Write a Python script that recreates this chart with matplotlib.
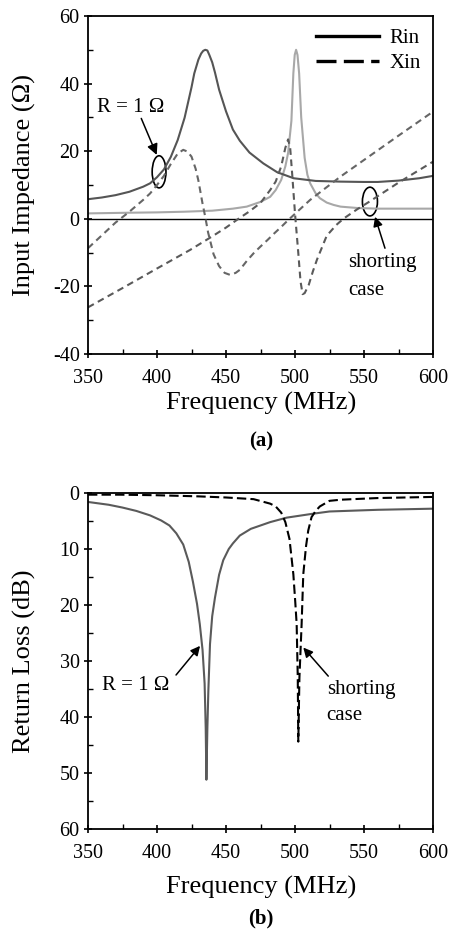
import matplotlib
matplotlib.use("Agg")
import matplotlib.pyplot as plt
from matplotlib.lines import Line2D
from matplotlib.patches import Ellipse

plt.rcParams['font.family'] = ['Liberation Serif', 'DejaVu Serif']
plt.rcParams['axes.unicode_minus'] = False

# ---- (a) input impedance ----
f_rin_r1 = [350, 360, 370, 380, 390, 395, 400, 405, 410, 415, 420, 425, 427, 430, 432,
            433.5, 435, 436.5, 438, 440, 442, 445, 450, 455, 460, 467, 477, 487, 499,
            515, 533, 550, 560, 575, 590, 600]
rin_r1 = [5.8, 6.3, 7.0, 8.0, 9.5, 10.5, 12.3, 14.6, 18.3, 23.3, 29.9, 38.9, 43.0, 47.1,
          48.9, 49.7, 50.0, 49.8, 48.4, 46.3, 43.3, 38.2, 31.8, 26.4, 23.1, 19.6, 16.4,
          13.8, 12.0, 11.2, 11.0, 10.9, 10.9, 11.3, 12.0, 12.7]

f_rin_sh = [350, 380, 400, 420, 440, 455, 465, 475, 482, 486, 490, 493, 495, 497.4,
            498.8, 499.8, 500.8, 501.8, 503, 504.5, 507, 509, 511, 515, 518, 523, 528,
            533, 545, 560, 600]
rin_sh = [1.6, 1.8, 1.9, 2.1, 2.4, 3.0, 3.6, 5.0, 6.5, 8.5, 11.5, 15.5, 19.5, 29.0,
          43.0, 48.5, 50.0, 48.5, 43.0, 30.0, 18.0, 13.0, 10.5, 7.5, 6.1, 4.8, 4.1,
          3.6, 3.2, 3.0, 3.0]

f_xin_r1 = [350, 360, 370, 380, 390, 395, 400, 405, 410, 415, 419, 422, 425, 428, 430,
            433, 435, 437, 441, 445, 449, 453, 457, 460, 465, 470, 475, 480, 485, 490,
            495, 511, 533, 550, 575, 600]
xin_r1 = [-8.7, -4.9, -1.1, 2.1, 5.6, 7.5, 10.0, 12.7, 16.2, 19.3, 20.4, 19.9, 18.4, 14.8,
          11.3, 4.5, 0.5, -4.0, -10.5, -14.0, -16.0, -16.6, -16.0, -15.1, -12.5, -10.2,
          -8.2, -6.3, -4.3, -2.4, -0.4, 5.6, 12.5, 17.4, 24.6, 31.7]

f_xin_sh = [350, 375, 400, 424, 440, 450, 459, 467, 475, 482, 486, 490, 493, 495, 496.5,
            498, 500, 502.4, 504, 505.5, 507, 510, 513, 516, 520, 523, 530, 535, 545,
            554, 575, 600]
xin_sh = [-26.2, -20.5, -14.7, -9.2, -5.2, -2.6, 0.0, 2.2, 4.7, 8.5, 11.0, 15.5, 21.0, 23.5,
          21.0, 13.0, 1.6, -10.2, -18.5, -22.3, -22.0, -19.5, -15.5, -12.0, -8.0, -5.0,
          -1.8, 0.0, 2.8, 5.1, 10.7, 16.9]

# ---- (b) return loss ----
f_rl_r1 = [350, 365, 375, 385, 395, 403, 409, 414, 419, 423, 426, 429, 431, 433, 434.5,
           435.3, 435.8, 436.5, 437.2, 438.4, 440, 442, 445, 448, 452, 455, 460, 468,
           475, 482, 494, 513, 525, 560, 600]
rl_r1 = [1.6, 2.1, 2.6, 3.2, 4.0, 4.9, 5.8, 7.2, 9.2, 12.3, 15.8, 19.8, 23.4, 28.0, 34.0,
         42.0, 51.2, 42.0, 35.4, 27.0, 22.0, 18.7, 14.6, 12.0, 10.0, 9.0, 7.6, 6.4,
         5.8, 5.2, 4.4, 3.7, 3.3, 3.0, 2.8]

f_rl_sh = [350, 373, 400, 430, 450, 470, 482, 486, 490, 493, 496, 498.8, 500.2, 501.2,
           502, 502.4, 503.2, 504.8, 506, 508, 509.6, 512, 515, 518, 525, 533, 560, 600]
rl_sh = [0.3, 0.3, 0.4, 0.6, 0.8, 1.1, 1.9, 2.4, 3.5, 5.2, 8.2, 14.5, 19.5, 23.4,
         33.0, 44.4, 33.0, 23.4, 14.5, 9.5, 6.7, 4.3, 3.2, 2.4, 1.4, 1.2, 0.9, 0.7]

x_ticks = [350, 400, 450, 500, 550, 600]

W, H = 450, 930
fig = plt.figure(figsize=(4.5, 9.3), dpi=100)


def box(l, t, r, b):
    return [l / W, 1 - b / H, (r - l) / W, (b - t) / H]


def style_axes(ax):
    for s in ax.spines.values():
        s.set_linewidth(1.3)
    ax.set_xlim(350, 600)
    ax.set_xticks(x_ticks)
    ax.set_xticks([375, 425, 475, 525, 575], minor=True)
    ax.tick_params(axis='both', which='major', direction='inout', length=6,
                   width=1.2, labelsize=14.5)
    ax.tick_params(axis='both', which='minor', direction='in', length=3.5, width=1.0)
    ax.tick_params(axis='x', which='major', pad=8)
    ax.tick_params(axis='y', which='major', pad=3)
    ax.tick_params(top=False, right=False, which='both')


# ---- (a) ----
ax1 = fig.add_axes(box(88, 16, 433, 354))
style_axes(ax1)
ax1.set_ylim(-40, 60)
ax1.set_yticks([-40, -20, 0, 20, 40, 60])
ax1.set_yticks([-30, -10, 10, 30, 50], minor=True)
ax1.axhline(0, color='black', lw=1.0)

dash = (0, (3.2, 2.2))
ax1.plot(f_rin_sh, rin_sh, color='#a8a8a8', lw=1.5)
ax1.plot(f_rin_r1, rin_r1, color='#555555', lw=1.5)
ax1.plot(f_xin_r1, xin_r1, color='#666666', lw=1.5, linestyle=dash)
ax1.plot(f_xin_sh, xin_sh, color='#5a5a5a', lw=1.5, linestyle=dash)

handles = [Line2D([], [], color='black', lw=2.4),
           Line2D([], [], color='black', lw=2.4, linestyle=(0, (6.0, 2.2)))]
ax1.legend(handles, ['Rin', 'Xin'], loc='upper right', frameon=False, fontsize=15,
           handlelength=3.0, handletextpad=0.5, labelspacing=0.25,
           borderaxespad=0.2, bbox_to_anchor=(1.0, 1.0))

ax1.add_patch(Ellipse((401.5, 13.9), 10, 9.5, fill=False, ec='black', lw=1.2))
ax1.add_patch(Ellipse((554.3, 5.1), 10.9, 8.5, fill=False, ec='black', lw=1.2))
ax1.text(356.5, 31.6, 'R = 1 Ω', fontsize=15, va='baseline')
ax1.annotate('', xy=(399.8, 18.9), xytext=(388.6, 29.7),
             arrowprops=dict(arrowstyle='-|>', color='black', lw=1.1, mutation_scale=16,
                             shrinkA=0, shrinkB=0))
ax1.text(538.4, -14.3, 'shorting', fontsize=15, va='baseline')
ax1.text(538.4, -22.5, 'case', fontsize=15, va='baseline')
ax1.annotate('', xy=(558, 0.6), xytext=(565.2, -8.7),
             arrowprops=dict(arrowstyle='-|>', color='black', lw=1.1, mutation_scale=14,
                             shrinkA=0, shrinkB=0))

fig.text(24 / W, 1 - 185 / H, 'Input Impedance (Ω)', rotation=90, fontsize=19,
         ha='center', va='center')
fig.text(261 / W, 1 - 403 / H, 'Frequency (MHz)', fontsize=19, ha='center', va='center')
fig.text(261 / W, 1 - 441 / H, '(a)', fontsize=15, fontweight='bold',
         ha='center', va='center')

# ---- (b) ----
ax2 = fig.add_axes(box(88, 493, 433, 829))
style_axes(ax2)
ax2.set_ylim(60, 0)
ax2.set_yticks([0, 10, 20, 30, 40, 50, 60])
ax2.set_yticks([5, 15, 25, 35, 45, 55], minor=True)

ax2.plot(f_rl_r1, rl_r1, color='#5a5a5a', lw=1.5)
ax2.plot(f_rl_sh, rl_sh, color='black', lw=1.5, linestyle=(0, (4.5, 2.0)))

ax2.text(359.9, 35.1, 'R = 1 Ω', fontsize=15, va='baseline')
ax2.annotate('', xy=(431.2, 27.3), xytext=(413.8, 32.5),
             arrowprops=dict(arrowstyle='-|>', color='black', lw=1.1, mutation_scale=14,
                             shrinkA=0, shrinkB=0))
ax2.text(523, 35.9, 'shorting', fontsize=15, va='baseline')
ax2.text(523, 40.5, 'case', fontsize=15, va='baseline')
ax2.annotate('', xy=(506, 27.6), xytext=(524.1, 32.7),
             arrowprops=dict(arrowstyle='-|>', color='black', lw=1.1, mutation_scale=14,
                             shrinkA=0, shrinkB=0))

fig.text(24 / W, 1 - 661 / H, 'Return Loss (dB)', rotation=90, fontsize=19,
         ha='center', va='center')
fig.text(261 / W, 1 - 887 / H, 'Frequency (MHz)', fontsize=19, ha='center', va='center')
fig.text(261 / W, 1 - 918 / H, '(b)', fontsize=15, fontweight='bold',
         ha='center', va='center')

fig.savefig('out.png', dpi=100)
